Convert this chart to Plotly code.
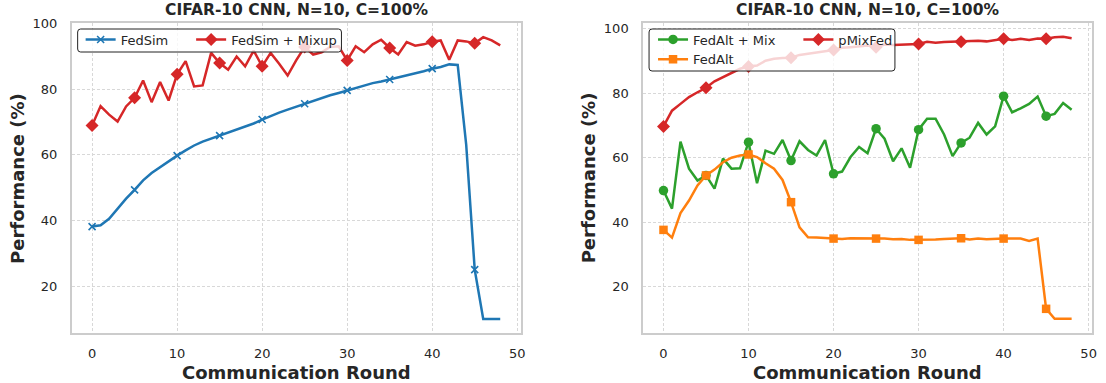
import plotly.graph_objects as go

# ---------------- data ----------------
rounds = list(range(49))

fedsim = [38.1, 38.5, 40.5, 43.6, 46.6, 49.3, 52.2, 54.4, 56.2, 58.0,
          59.7, 61.3, 62.8, 64.0, 64.9, 65.8, 66.7, 67.6, 68.4, 69.5,
          70.7, 71.8, 72.8, 73.7, 74.6, 75.5, 76.5, 77.4, 78.1, 78.8,
          79.6, 80.3, 81.1, 81.8, 82.3, 82.9, 83.6, 84.1, 84.7, 85.4,
          86.2, 86.7, 87.5, 87.3, 63.0, 25.0, 10.0, 10.0, 10.0]

fedsim_mixup = [68.9, 74.8, 72.2, 70.1, 74.7, 77.3, 82.6, 76.0, 82.1, 76.5,
                84.5, 88.5, 80.8, 81.1, 91.0, 87.9, 85.9, 89.9, 86.9, 91.7,
                86.9, 91.0, 87.7, 84.1, 88.7, 92.8, 90.5, 91.2, 92.8, 93.0,
                88.7, 93.0, 91.2, 93.6, 95.0, 92.5, 90.5, 94.3, 93.2, 93.6,
                94.4, 94.8, 88.9, 94.8, 94.5, 93.9, 95.8, 94.8, 93.3]

fedalt_mix = [49.8, 44.2, 65.0, 56.6, 52.9, 54.5, 50.4, 59.7, 56.6, 56.7,
              64.8, 52.1, 62.2, 61.2, 65.5, 59.1, 65.1, 62.4, 60.7, 65.5,
              55.0, 55.7, 60.2, 63.3, 61.4, 69.0, 65.9, 58.9, 62.9, 56.9,
              68.7, 72.1, 72.1, 67.2, 60.5, 64.6, 66.2, 70.8, 67.2, 69.7,
              79.1, 74.1, 75.3, 76.7, 79.0, 72.9, 73.6, 77.0, 74.9]

fedalt = [37.6, 35.2, 42.8, 46.7, 51.4, 54.5, 56.3, 58.6, 60.0, 60.7,
          61.0, 60.2, 58.3, 56.6, 53.1, 46.2, 38.4, 35.3, 35.2, 35.1,
          34.9, 34.8, 35.0, 35.0, 34.8, 34.9, 34.9, 34.7, 34.8, 34.5,
          34.5, 34.7, 34.6, 34.8, 35.0, 35.0, 34.6, 34.9, 34.7, 34.9,
          34.9, 34.9, 34.9, 34.2, 34.9, 13.1, 10.0, 10.0, 10.0]

pmixfed = [69.7, 74.6, 76.7, 78.8, 80.3, 81.7, 83.7, 85.0, 86.5, 87.6,
           88.3, 88.6, 90.1, 90.7, 90.9, 91.0, 91.9, 92.2, 92.5, 93.0,
           93.4, 94.1, 94.3, 94.5, 94.8, 94.3, 95.1, 95.0, 95.1, 95.3,
           95.3, 96.0, 95.7, 95.9, 96.0, 96.0, 96.3, 96.3, 96.1, 96.5,
           96.9, 96.5, 96.9, 96.5, 97.0, 96.9, 97.4, 97.5, 97.1]

title_text = "CIFAR-10 CNN, N=10, C=100%"
x_label = "Communication Round"
y_label = "Performance (%)"
x_ticks = [0, 10, 20, 30, 40, 50]
y_ticks = [20, 40, 60, 80, 100]

# ---------------- layout helpers ----------------
W, H = 1106, 383
M_T, M_B = 23, 50
PLOT_H = H - M_T - M_B
FONT = "DejaVu Sans"
TXT = "#262626"

BLUE, ORANGE, GREEN, RED = "#1f77b4", "#ff7f0e", "#2ca02c", "#d62728"
CLEAR = "rgba(0,0,0,0)"


def px_x(p):
    return p / W


def px_y(p):
    return (H - M_B - p) / PLOT_H


def every5(color, n=len(rounds)):
    return [color if i % 5 == 0 else CLEAR for i in range(n)]


def rounded_box(x0, y0, x1, y1, r=3.0):
    rx, ry = r / W, r / PLOT_H
    X0, X1 = px_x(x0), px_x(x1)
    Yt, Yb = px_y(y0), px_y(y1)
    return (f"M {X0+rx},{Yt} L {X1-rx},{Yt} Q {X1},{Yt} {X1},{Yt-ry} "
            f"L {X1},{Yb+ry} Q {X1},{Yb} {X1-rx},{Yb} "
            f"L {X0+rx},{Yb} Q {X0},{Yb} {X0},{Yb+ry} "
            f"L {X0},{Yt-ry} Q {X0},{Yt} {X0+rx},{Yt} Z")


fig = go.Figure()

LW = 2.5

# left panel
fig.add_trace(go.Scatter(
    x=rounds, y=fedsim, name="FedSim", mode="lines+markers",
    line=dict(color=BLUE, width=LW),
    marker=dict(symbol="x-thin", size=7, color=every5(BLUE),
                line=dict(color=every5(BLUE), width=1.6)),
    xaxis="x", yaxis="y", legend="legend"))
fig.add_trace(go.Scatter(
    x=rounds, y=fedsim_mixup, name="FedSim + Mixup", mode="lines+markers",
    line=dict(color=RED, width=LW),
    marker=dict(symbol="diamond", size=10, color=every5(RED), line=dict(width=0)),
    xaxis="x", yaxis="y", legend="legend4"))

# right panel
fig.add_trace(go.Scatter(
    x=rounds, y=fedalt_mix, name="FedAlt + Mix", mode="lines+markers",
    line=dict(color=GREEN, width=LW),
    marker=dict(symbol="circle", size=9.5, color=every5(GREEN), line=dict(width=0)),
    xaxis="x2", yaxis="y2", legend="legend2"))
fig.add_trace(go.Scatter(
    x=rounds, y=fedalt, name="FedAlt", mode="lines+markers",
    line=dict(color=ORANGE, width=LW),
    marker=dict(symbol="square", size=8.5, color=every5(ORANGE), line=dict(width=0)),
    xaxis="x2", yaxis="y2", legend="legend2"))
fig.add_trace(go.Scatter(
    x=rounds, y=pmixfed, name="pMixFed", mode="lines+markers",
    line=dict(color=RED, width=LW),
    marker=dict(symbol="diamond", size=10, color=every5(RED), line=dict(width=0)),
    xaxis="x2", yaxis="y2", legend="legend3"))

axis_common = dict(
    showgrid=True, gridcolor="#d8d8d8", griddash="3px,2px", gridwidth=0.8,
    zeroline=False, showline=True, mirror=True, linecolor="#cccccc", linewidth=1.6,
    ticks="outside", tickcolor=CLEAR,
    tickfont=dict(family=FONT, size=13, color=TXT),
)


def legend_at(x, y):
    return dict(orientation="v", x=px_x(x), y=px_y(y), xanchor="left",
                yanchor="top", bgcolor=CLEAR, borderwidth=0, tracegroupgap=0,
                font=dict(family=FONT, size=13, color=TXT))


fig.update_layout(
    width=W, height=H,
    margin=dict(l=0, r=0, t=M_T, b=M_B),
    paper_bgcolor="white", plot_bgcolor="white",
    font=dict(family=FONT, color=TXT),
    xaxis=dict(domain=[px_x(72), px_x(523)], range=[-2.4, 50.4],
               tickvals=x_ticks, ticklen=8, anchor="y", **axis_common),
    yaxis=dict(domain=[0, 1], range=[5.7, 100.1], tickvals=y_ticks,
               ticklen=10, anchor="x", **axis_common),
    xaxis2=dict(domain=[px_x(646), px_x(1097)], range=[-2.4, 50.4],
                tickvals=x_ticks, ticklen=8, anchor="y2", **axis_common),
    yaxis2=dict(domain=[0, 1], range=[5.6, 101.8], tickvals=y_ticks,
                ticklen=10, anchor="x2", **axis_common),
    legend=legend_at(81, 24.5),
    legend4=legend_at(192, 24.5),
    legend2=legend_at(656, 24.5),
    legend3=legend_at(802, 24.5),
    showlegend=True,
)

# legend frames (semi-transparent, like matplotlib's)
for (x0, y0, x1, y1) in [(78, 29, 343, 52), (652, 29, 899, 71)]:
    fig.add_shape(type="path", path=rounded_box(x0, y0, x1, y1), xref="paper",
                  yref="paper", layer="above", fillcolor="rgba(255,255,255,0.8)",
                  line=dict(color="#222222", width=1))

# titles and axis labels
for cx in [(72 + 523) / 2, (646 + 1097) / 2]:
    fig.add_annotation(text=f"<b>{title_text}</b>", x=px_x(cx), y=px_y(10),
                       xref="paper", yref="paper", showarrow=False,
                       xanchor="center", yanchor="middle",
                       font=dict(family=FONT, size=15.5, color=TXT))
    fig.add_annotation(text=f"<b>{x_label}</b>", x=px_x(cx), y=px_y(372),
                       xref="paper", yref="paper", showarrow=False,
                       xanchor="center", yanchor="middle",
                       font=dict(family=FONT, size=18, color=TXT))
for lx in [17, 591]:
    fig.add_annotation(text=f"<b>{y_label}</b>", x=px_x(lx), y=px_y(178),
                       xref="paper", yref="paper", showarrow=False,
                       xanchor="center", yanchor="middle", textangle=-90,
                       font=dict(family=FONT, size=18, color=TXT))

fig.write_html("out.html")
